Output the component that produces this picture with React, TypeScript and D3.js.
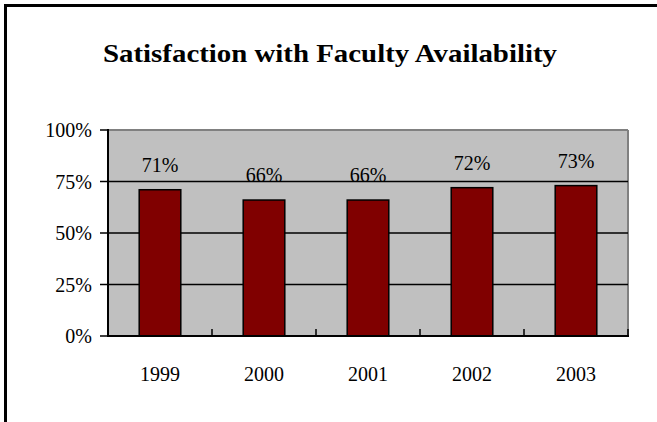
import React from "react";
import * as d3 from "d3";

const categories = ["1999", "2000", "2001", "2002", "2003"];
const values = [71, 66, 66, 72, 73];
const yTicks = [0, 25, 50, 75, 100];
const title = "Satisfaction with Faculty Availability";

const W = 657;
const H = 422;
const plot = { left: 108, right: 628, top: 130, bottom: 336 };
const FONT = "'Liberation Serif', 'Times New Roman', serif";

export default function App() {
  const x = d3
    .scaleBand<string>()
    .domain(categories)
    .range([plot.left, plot.right])
    .paddingInner(0)
    .paddingOuter(0);
  const y = d3.scaleLinear().domain([0, 100]).range([plot.bottom, plot.top]);
  const bw = x.bandwidth() * 0.4;
  const boundaries = categories.map((c) => x(c)!).concat([plot.right]);

  return (
    <div style={{ position: "fixed", left: 0, top: 0, width: W, height: H, background: "#fff" }}>
      <svg width={W} height={H} style={{ display: "block" }}>
        <rect x={0} y={0} width={W} height={H} fill="#ffffff" />
        {/* frame */}
        <line x1={4} y1={5.5} x2={W} y2={5.5} stroke="#000" strokeWidth={3} />
        <line x1={5.5} y1={4} x2={5.5} y2={H} stroke="#000" strokeWidth={3} />

        <text
          x={330}
          y={62}
          textAnchor="middle"
          fontFamily={FONT}
          fontWeight="bold"
          fontSize={26}
          textLength={454}
          lengthAdjust="spacingAndGlyphs"
          fill="#000"
        >
          {title}
        </text>

        {/* plot area */}
        <rect
          x={plot.left}
          y={plot.top}
          width={plot.right - plot.left}
          height={plot.bottom - plot.top}
          fill="#c0c0c0"
        />
        <line x1={plot.left} y1={plot.top} x2={plot.right} y2={plot.top} stroke="#808080" strokeWidth={2} />
        <line x1={plot.right} y1={plot.top} x2={plot.right} y2={plot.bottom} stroke="#808080" strokeWidth={2} />

        {yTicks
          .filter((t) => t > 0 && t < 100)
          .map((t) => (
            <line key={"g" + t} x1={plot.left} x2={plot.right} y1={y(t)} y2={y(t)} stroke="#000" strokeWidth={1.5} />
          ))}

        {categories.map((c, i) => {
          const cx = x(c)! + x.bandwidth() / 2;
          return (
            <rect
              key={"b" + c}
              x={cx - bw / 2}
              y={y(values[i])}
              width={bw}
              height={plot.bottom - y(values[i])}
              fill="#800000"
              stroke="#000"
              strokeWidth={1.5}
            />
          );
        })}

        {/* axes */}
        <line x1={plot.left} y1={plot.top - 1} x2={plot.left} y2={plot.bottom + 1} stroke="#000" strokeWidth={2} />
        <line x1={plot.left} y1={plot.bottom} x2={plot.right + 1} y2={plot.bottom} stroke="#000" strokeWidth={2} />

        {yTicks.map((t) => (
          <g key={"yt" + t}>
            <line x1={plot.left - 8} x2={plot.left} y1={y(t)} y2={y(t)} stroke="#000" strokeWidth={1.5} />
            <text x={92} y={y(t) + 7} textAnchor="end" fontFamily={FONT} fontSize={20} fill="#000">
              {t + "%"}
            </text>
          </g>
        ))}

        {boundaries.map((bx, i) => (
          <line key={"xt" + i} x1={bx} x2={bx} y1={plot.bottom} y2={plot.bottom - 7} stroke="#000" strokeWidth={1.5} />
        ))}

        {categories.map((c) => (
          <text
            key={"xl" + c}
            x={x(c)! + x.bandwidth() / 2}
            y={381}
            textAnchor="middle"
            fontFamily={FONT}
            fontSize={20}
            fill="#000"
          >
            {c}
          </text>
        ))}

        {categories.map((c, i) => (
          <text
            key={"vl" + c}
            x={x(c)! + x.bandwidth() / 2}
            y={y(values[i]) - 18}
            textAnchor="middle"
            fontFamily={FONT}
            fontSize={20}
            fill="#000"
          >
            {values[i] + "%"}
          </text>
        ))}
      </svg>
    </div>
  );
}
